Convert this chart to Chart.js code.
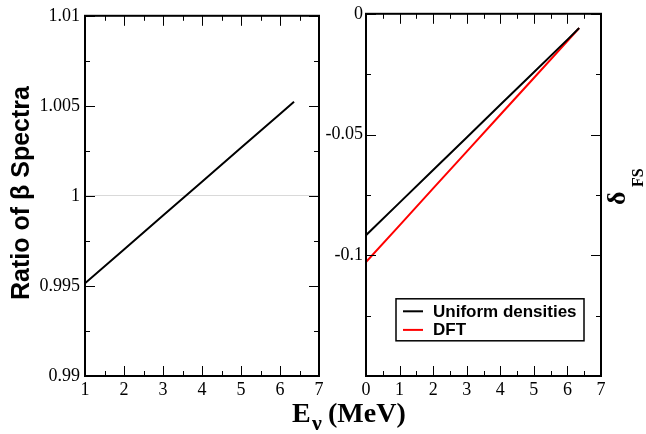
<!DOCTYPE html>
<html>
<head>
<meta charset="utf-8">
<script src="https://cdn.jsdelivr.net/npm/chart.js@4/dist/chart.umd.min.js"></script>
<style>
html,body{margin:0;padding:0;background:#fff;}
#wrap{position:relative;width:646px;height:434px;overflow:hidden;}
canvas{position:absolute;left:0;top:0;}
</style>
</head>
<body>
<div id="wrap">
<canvas id="left" width="646" height="434"></canvas>
<canvas id="right" width="646" height="434"></canvas>
</div>
<script>
// ---- data ----
const leftEnergy = [1, 2, 3, 4, 5, 6, 6.36];
const ratioSpectra = [0.99515, 0.99703, 0.99891, 1.00079, 1.00267, 1.00455, 1.00523];

const rightEnergy = [0, 1, 2, 3, 4, 5, 6, 6.35];
const deltaUniform = [-0.0917, -0.0782, -0.0647, -0.0512, -0.0377, -0.0242, -0.0107, -0.0059];
const deltaDFT = [-0.1028, -0.0876, -0.0723, -0.0571, -0.0418, -0.0266, -0.0113, -0.0059];

const leftXTickLabels = ['1', '2', '3', '4', '5', '6', '7'];
const leftYTickLabels = ['0.99', '0.995', '1', '1.005', '1.01'];
const rightXTickLabels = ['0', '1', '2', '3', '4', '5', '6', '7'];
const rightYTickLabels = ['', '-0.1', '-0.05', '0'];

const seriesNames = ['Uniform densities', 'DFT'];
const leftAxisTitle = 'Ratio of β Spectra';
const xAxisTitleMain = 'E';
const xAxisTitleSub = 'ν';
const xAxisTitleUnit = '(MeV)';
const rightAxisTitleMain = 'δ';
const rightAxisTitleSub = 'FS';

// ---- helpers ----
const toXY = (xs, ys) => xs.map((v, i) => ({x: v, y: ys[i]}));
const serif = "'Liberation Serif', serif";
const sans = "'Liberation Sans', sans-serif";
Chart.defaults.font.family = serif;
Chart.defaults.font.size = 18;
Chart.defaults.color = '#000';

function drawFrameTicks(chart) {
  const {ctx, chartArea: a, scales: {x, y}} = chart;
  ctx.save();
  ctx.strokeStyle = '#000';
  ctx.lineWidth = 1;
  const xt = x.ticks.map(t => t.value);
  const yt = y.ticks.map(t => t.value);
  const mids = arr => arr.slice(0, -1).map((v, i) => (v + arr[i + 1]) / 2);
  ctx.beginPath();
  const vx = (vals, len) => vals.forEach(v => {
    const p = Math.round(x.getPixelForValue(v)) + 0.5;
    ctx.moveTo(p, a.bottom); ctx.lineTo(p, a.bottom - len);
    ctx.moveTo(p, a.top); ctx.lineTo(p, a.top + len);
  });
  const vy = (vals, len) => vals.forEach(v => {
    const p = Math.round(y.getPixelForValue(v)) + 0.5;
    ctx.moveTo(a.left, p); ctx.lineTo(a.left + len, p);
    ctx.moveTo(a.right, p); ctx.lineTo(a.right - len, p);
  });
  vx(xt, 10); vx(mids(xt), 5);
  vy(yt, 10); vy(mids(yt), 5);
  ctx.stroke();
  ctx.lineWidth = 2;
  ctx.strokeRect(a.left, a.top, a.right - a.left, a.bottom - a.top);
  ctx.restore();
}

const tickFont = () => ({family: serif, size: 18, weight: 'normal'});

// ---- left panel ----
new Chart(document.getElementById('left'), {
  type: 'line',
  data: {
    datasets: [{
      data: toXY(leftEnergy, ratioSpectra),
      borderColor: '#000', borderWidth: 2, pointRadius: 0, tension: 0, fill: false
    }]
  },
  options: {
    responsive: false, animation: false, devicePixelRatio: 1,
    layout: {padding: {left: 0, right: 327, top: 13, bottom: 0}},
    plugins: {legend: {display: false}, tooltip: {enabled: false}},
    scales: {
      x: {
        type: 'linear', min: 1, max: 7,
        ticks: {stepSize: 1, font: tickFont(), color: '#000', padding: 3, maxRotation: 0,
          callback: (v, i) => leftXTickLabels[i]},
        grid: {display: false, drawTicks: false}, border: {display: false},
        afterFit: s => { s.height = 58; }
      },
      y: {
        type: 'linear', min: 0.99, max: 1.01,
        ticks: {stepSize: 0.005, font: tickFont(), color: '#000', padding: 5,
          callback: (v, i) => leftYTickLabels[i]},
        grid: {drawTicks: false, lineWidth: 1,
          color: c => (c.tick && Math.abs(c.tick.value - 1) < 1e-9) ? '#d9d9d9' : 'rgba(0,0,0,0)'},
        border: {display: false},
        afterFit: s => { s.width = 85; }
      }
    }
  },
  plugins: [{
    id: 'leftDeco',
    afterDraw(chart) {
      drawFrameTicks(chart);
      const ctx = chart.ctx;
      ctx.save();
      ctx.fillStyle = '#000';
      ctx.translate(22, 193);
      ctx.rotate(-Math.PI / 2);
      ctx.font = 'bold 25px ' + sans;
      ctx.textAlign = 'center';
      ctx.textBaseline = 'middle';
      ctx.fillText(leftAxisTitle, 0, 0);
      ctx.restore();
      // shared x-axis title
      ctx.save();
      ctx.fillStyle = '#000';
      ctx.textBaseline = 'alphabetic';
      ctx.font = 'bold 28px ' + serif;
      ctx.fillText(xAxisTitleMain, 292, 422);
      ctx.font = 'bold 22px ' + serif;
      ctx.fillText(xAxisTitleSub, 312, 430);
      ctx.font = 'bold 28px ' + serif;
      ctx.fillText(xAxisTitleUnit, 328, 422);
      ctx.restore();
    }
  }]
});

// ---- right panel ----
const rightColors = ['#000000', '#ff0000'];
new Chart(document.getElementById('right'), {
  type: 'line',
  data: {
    datasets: [
      {label: seriesNames[0], data: toXY(rightEnergy, deltaUniform),
        borderColor: rightColors[0], borderWidth: 2, pointRadius: 0, tension: 0, fill: false},
      {label: seriesNames[1], data: toXY(rightEnergy, deltaDFT),
        borderColor: rightColors[1], borderWidth: 2, pointRadius: 0, tension: 0, fill: false}
    ]
  },
  options: {
    responsive: false, animation: false, devicePixelRatio: 1,
    layout: {padding: {left: 316, right: 45, top: 13, bottom: 0}},
    plugins: {legend: {display: false}, tooltip: {enabled: false}},
    scales: {
      x: {
        type: 'linear', min: 0, max: 7,
        ticks: {stepSize: 1, font: tickFont(), color: '#000', padding: 3, maxRotation: 0,
          callback: (v, i) => rightXTickLabels[i]},
        grid: {display: false, drawTicks: false}, border: {display: false},
        afterFit: s => { s.height = 58; }
      },
      y: {
        type: 'linear', min: -0.15, max: 0,
        ticks: {stepSize: 0.05, font: tickFont(), color: '#000', padding: 3,
          callback: (v, i) => rightYTickLabels[i]},
        grid: {display: false, drawTicks: false}, border: {display: false},
        afterFit: s => { s.width = 50; }
      }
    }
  },
  plugins: [{
    id: 'rightDeco',
    afterDraw(chart) {
      drawFrameTicks(chart);
      const ctx = chart.ctx;
      const a = chart.chartArea;
      // legend box
      ctx.save();
      const bx = a.left + 30, by = a.top + 285;
      ctx.fillStyle = '#fff';
      ctx.fillRect(bx, by, 188, 42);
      ctx.strokeStyle = '#000';
      ctx.lineWidth = 1.5;
      ctx.strokeRect(bx, by, 188, 42);
      ctx.font = 'bold 17px ' + sans;
      ctx.textBaseline = 'alphabetic';
      chart.data.datasets.forEach((ds, i) => {
        const ly = by + 12.5 + i * 18.6;
        ctx.strokeStyle = ds.borderColor;
        ctx.lineWidth = 2;
        ctx.beginPath();
        ctx.moveTo(bx + 7, ly); ctx.lineTo(bx + 27, ly);
        ctx.stroke();
        ctx.fillStyle = '#000';
        ctx.fillText(ds.label, bx + 37, by + 18.5 + i * 17.6);
      });
      ctx.restore();
      // right axis title
      ctx.save();
      ctx.fillStyle = '#000';
      ctx.translate(625, 205);
      ctx.rotate(-Math.PI / 2);
      ctx.textBaseline = 'alphabetic';
      ctx.font = 'bold 26px ' + serif;
      ctx.fillText(rightAxisTitleMain, 0, 0);
      ctx.font = 'bold 16px ' + serif;
      ctx.fillText(rightAxisTitleSub, 18, 18);
      ctx.restore();
    }
  }]
});
</script>
</body>
</html>
